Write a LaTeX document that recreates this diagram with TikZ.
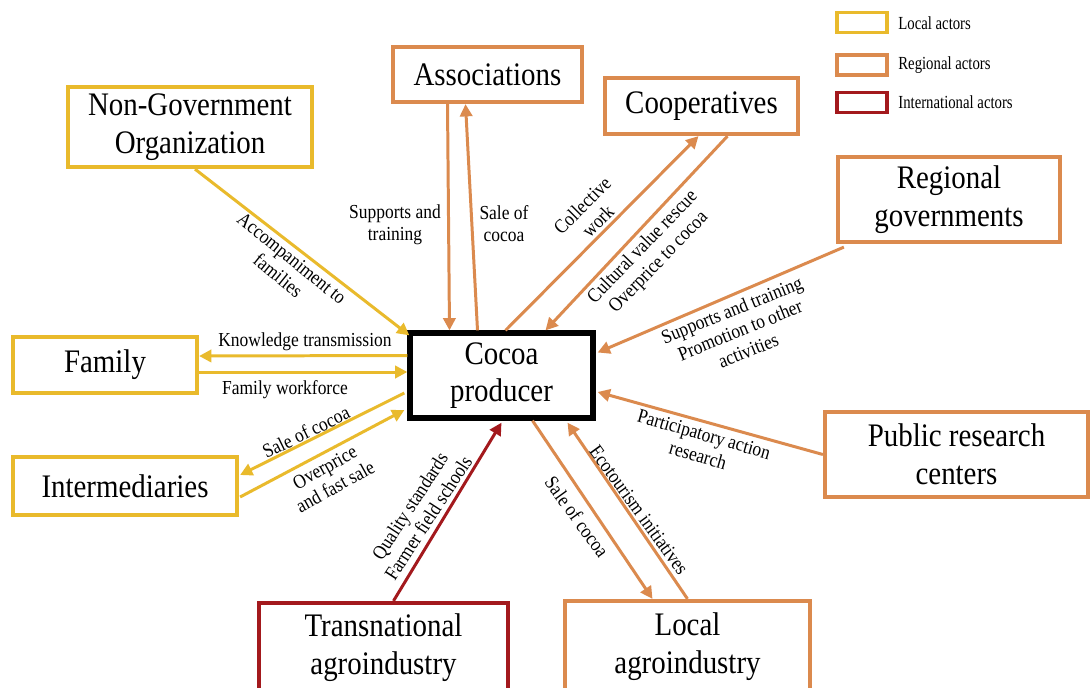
\documentclass[tikz,border=0pt]{standalone}
\usepackage{fontspec}
\setmainfont{Liberation Serif}[FakeStretch=0.88]
\newfontfamily\legfont{Liberation Serif}[FakeStretch=0.8]
\usetikzlibrary{arrows.meta,calc}
\definecolor{cloc}{HTML}{E9BA2C}
\definecolor{creg}{HTML}{DB8A4E}
\definecolor{cint}{HTML}{A3191D}
\begin{document}
\begin{tikzpicture}[x=0.02cm,y=-0.02cm,
 actor/.style={draw,line width=2.4pt,fill=white,align=center,inner sep=0pt,font=\fontsize{18.7}{21.5}\selectfont},
 loc/.style={actor,draw=cloc}, reg/.style={actor,draw=creg}, intl/.style={actor,draw=cint},
 bw/.style={minimum width=#1*0.02cm}, bh/.style={minimum height=#1*0.02cm},
 flow/.style={line width=1.7pt,-{Triangle[length=7pt,width=7pt]}},
 lab/.style={font=\fontsize{11.3}{12.5}\selectfont,align=center,inner sep=0pt},
 legbox/.style={draw,line width=2.2pt,minimum width=50*0.02cm,minimum height=20*0.02cm,inner sep=0pt},
 legtxt/.style={font=\legfont\fontsize{10.5}{12}\selectfont,anchor=west,inner sep=0pt}]
\useasboundingbox (0,0) rectangle (1091,687);
\clip (0,0) rectangle (1091,687);
\fill[white] (0,0) rectangle (1091,687);

% actors
\node[loc,bw=244,bh=80] (ngo) at (190,127) {Non-Government\\Organization};
\node[reg,bw=189,bh=55] (assoc) at (487.5,74.5) {Associations};
\node[reg,bw=193,bh=56] (coop) at (701.5,106) {Cooperatives};
\node[reg,bw=222,bh=85] (rgov) at (949,199.5) {Regional\\governments};
\node[loc,bw=184,bh=56] (family) at (105,365) {Family};
\node[actor,draw=black,line width=3pt,bw=183,bh=85] (cocoa) at (501.5,375.5) {Cocoa\\producer};
\node[loc,bw=224,bh=58] (inter) at (125,486) {Intermediaries};
\node[reg,bw=263,bh=85] (prc) at (956.5,454.5) {Public research\\centers};
\node[intl,bw=249,bh=90] (trans) at (383.5,648) {Transnational\\agroindustry};
\node[reg,bw=245,bh=92] (lagro) at (687.5,647) {Local\\agroindustry};

% connectors
\draw[flow,cloc] ($(ngo.south)+(5,0)$) -- ($(cocoa.north west)+(2,5)$);
\draw[flow,creg] ($(assoc.south)+(-40,0)$) -- ($(cocoa.north)+(-52,0)$);
\draw[flow,creg] ($(cocoa.north)+(-24,0)$) -- ($(assoc.south)+(-22,0)$);
\draw[flow,creg] ($(cocoa.north)+(4,0)$) -- ($(coop.south)+(-3,0)$);
\draw[flow,creg] ($(coop.south)+(26,0)$) -- ($(cocoa.north)+(44,0)$);
\draw[flow,creg] ($(rgov.south west)+(8,3)$) -- ($(cocoa.east)+(2,-23)$);
\draw[flow,cloc] ($(cocoa.west)+(0,-20)$) -- ($(family.east)+(0,-9)$);
\draw[flow,cloc] ($(family.east)+(0,7)$) -- ($(cocoa.west)+(0,-3.5)$);
\draw[flow,cloc] ($(cocoa.west)+(-3,17.5)$) -- ($(inter.east)+(1,-11)$);
\draw[flow,cloc] ($(inter.east)+(1,11)$) -- ($(cocoa.west)+(-3,34.5)$);
\draw[flow,creg] (prc.west) -- ($(cocoa.east)+(2,16.5)$);
\draw[flow,cint] ($(trans.north)+(10,0)$) -- ($(cocoa.south)+(0,2)$);
\draw[flow,creg] ($(cocoa.south)+(31,0)$) -- ($(lagro.north)+(-35,0)$);
\draw[flow,creg] (lagro.north) -- ($(cocoa.south)+(66,2)$);

% labels
\node[lab,rotate=-39] (l1) at (285,267) {Accompaniment to\\families};
\node[lab] (l2) at (395,225) {Supports and\\training};
\node[lab] (l3) at (504,224) {Sale of\\cocoa};
\node[lab,rotate=45] (l4) at (590,213) {Collective\\work};
\node[lab,rotate=46] (l5) at (651,255) {Cultural value rescue\\Overprice to cocoa};
\node[lab,rotate=22] (l6) at (740,330) {Supports and training\\Promotion to other\\activities};
\node[lab] (l7) at (305,342) {Knowledge transmission};
\node[lab] (l8) at (285,390) {Family workforce};
\node[lab,rotate=26] (l9) at (306,432) {Sale of cocoa};
\node[lab,rotate=29] (l10) at (330,477) {Overprice\\and fast sale};
\node[lab,rotate=-16] (l11) at (701,445) {Participatory action\\research};
\node[lab,rotate=57] (l12) at (419,512) {Quality standards\\Farmer field schools};
\node[lab,rotate=-54] (l13) at (577,517) {Sale of cocoa};
\node[lab,rotate=-54] (l14) at (639,510) {Ecotourism initiatives};

% legend
\node[legbox,draw=cloc] (lg1) at (862,22.5) {};
\node[legbox,draw=creg] (lg2) at (862,65) {};
\node[legbox,draw=cint] (lg3) at (862,102.5) {};
\node[legtxt] (lt1) at (898,23) {Local actors};
\node[legtxt] (lt2) at (898,65) {Regional actors};
\node[legtxt] (lt3) at (898,102) {International actors};
\end{tikzpicture}
\end{document}
